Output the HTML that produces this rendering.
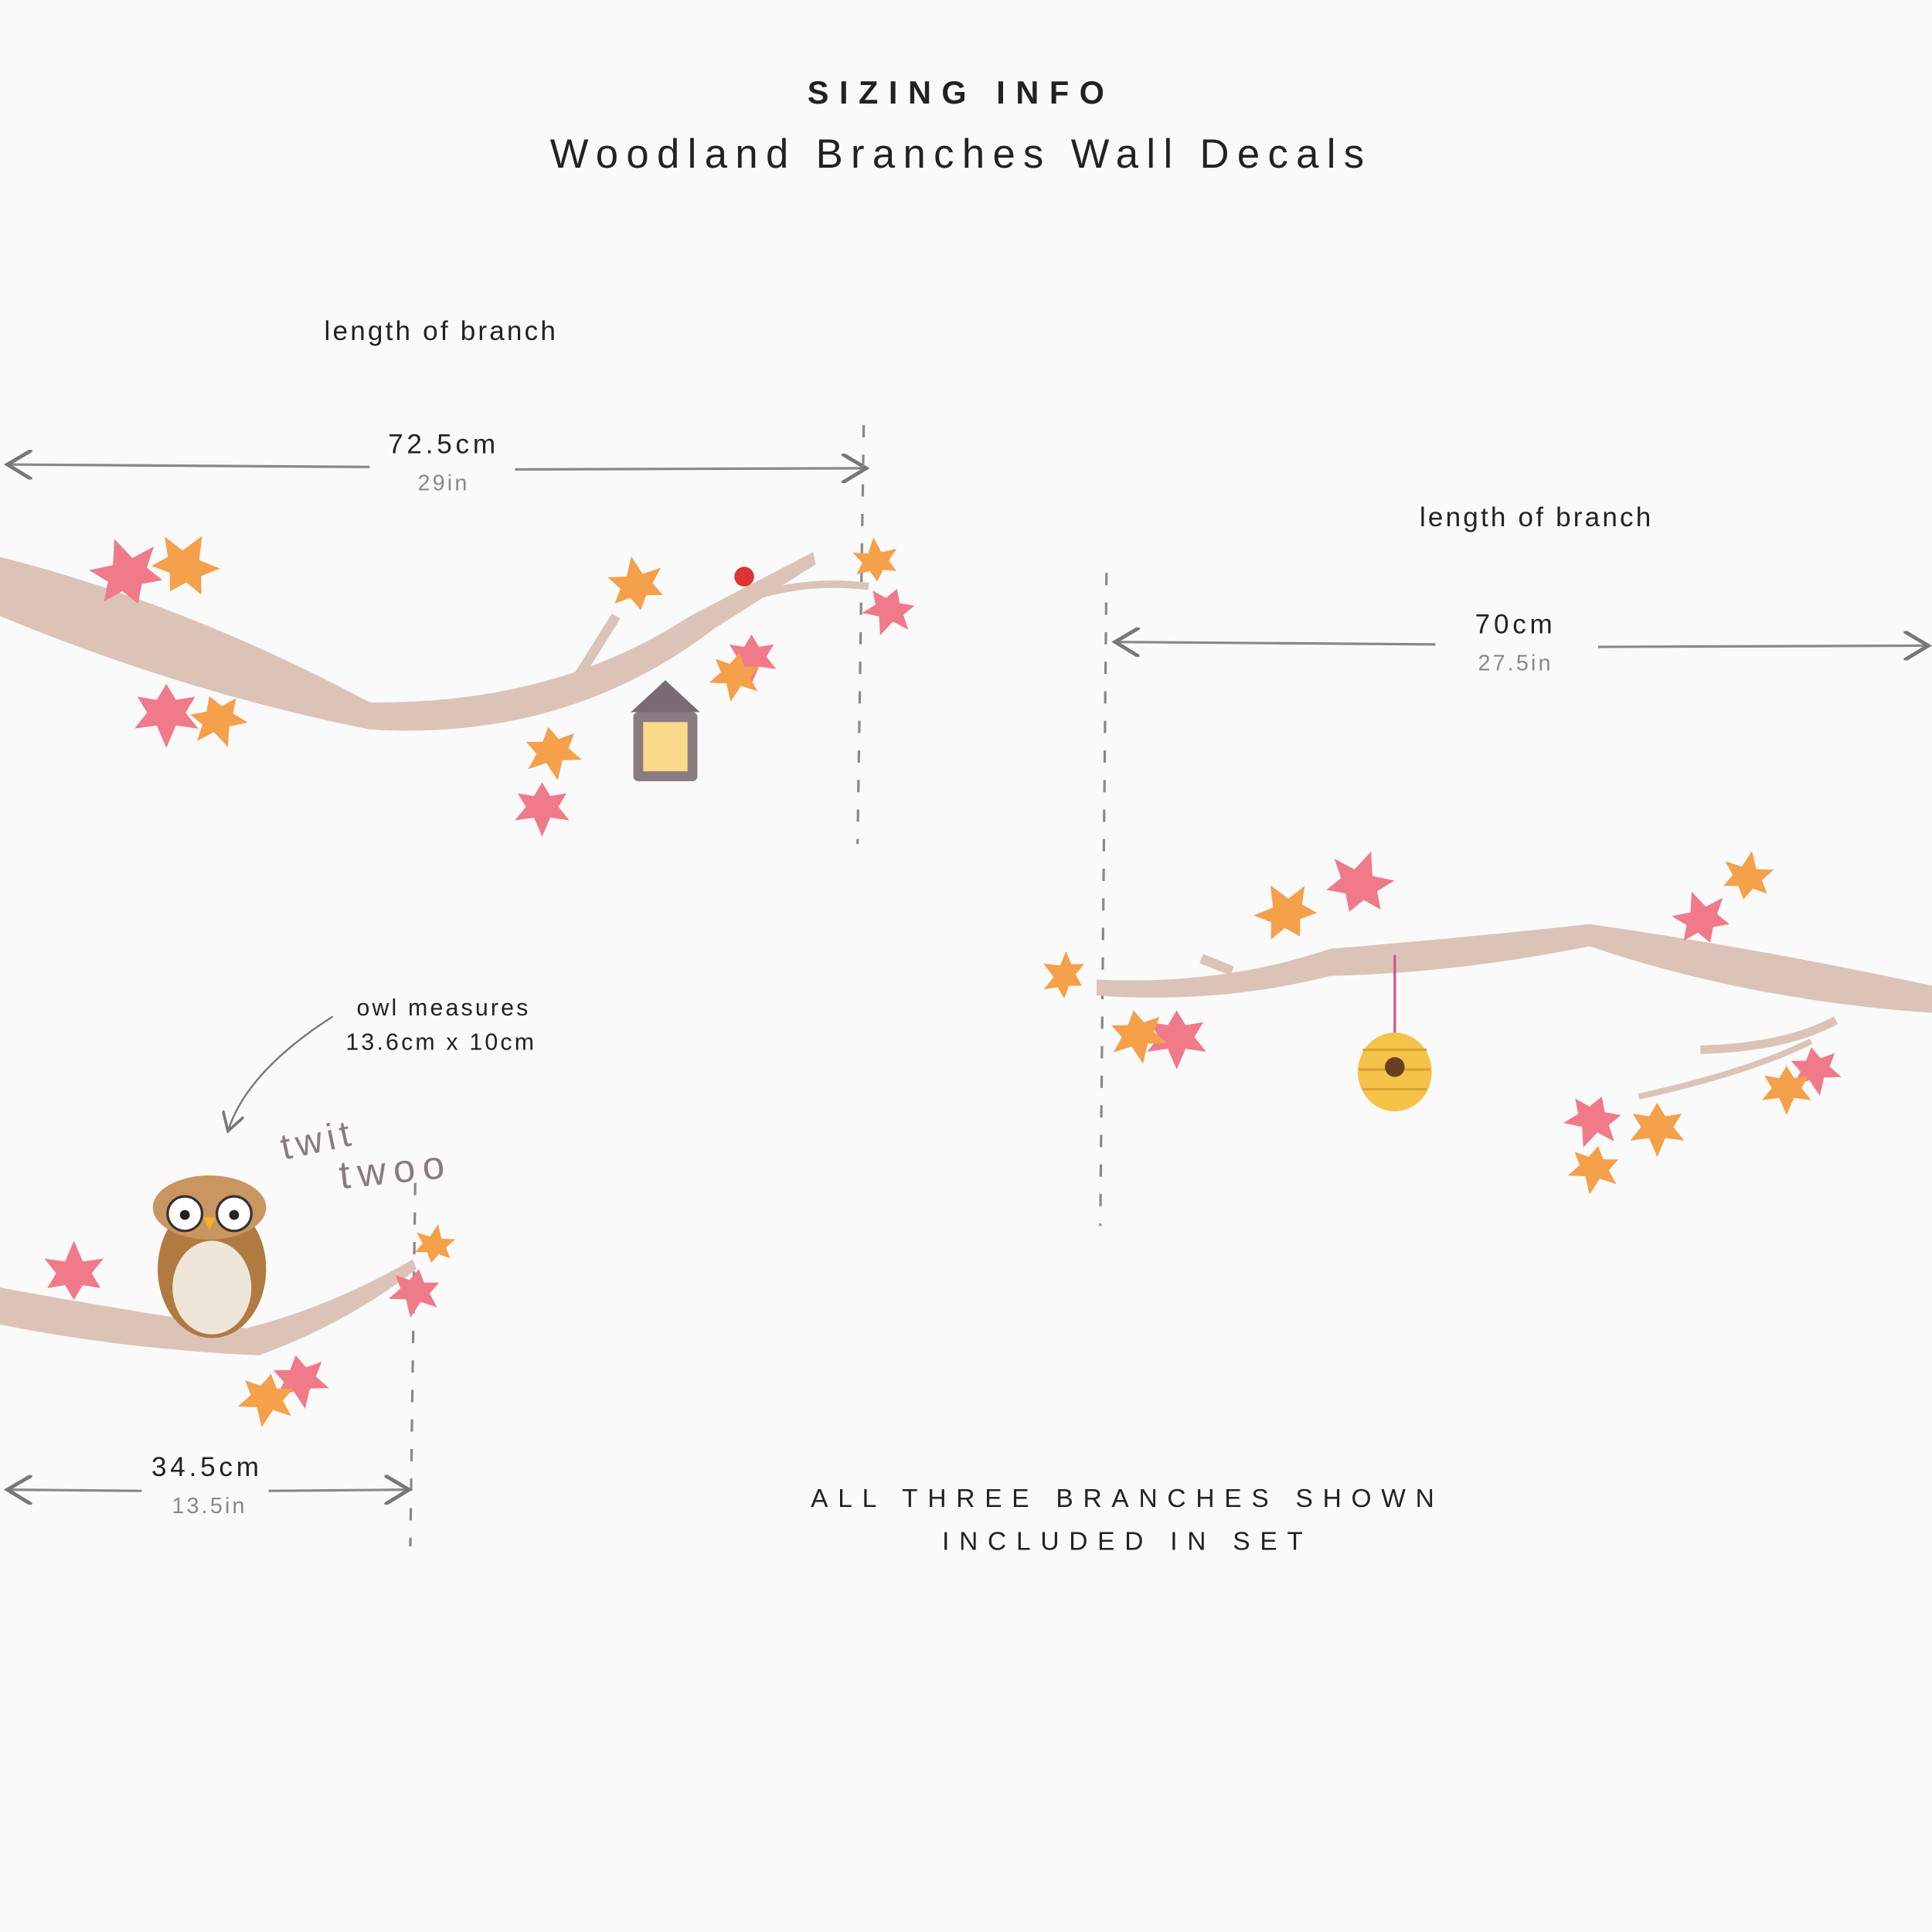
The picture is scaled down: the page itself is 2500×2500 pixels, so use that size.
<!DOCTYPE html>
<html><head><meta charset="utf-8"><style>
html,body{margin:0;padding:0;background:#fafafa;}
svg{display:block;}
text{font-family:"Liberation Sans",sans-serif;}
</style></head><body>
<svg width="2500" height="2500" viewBox="0 0 1568 1568" xmlns="http://www.w3.org/2000/svg">
<rect width="1568" height="1568" fill="#fafafa"/>
<defs>
<g id="leaf"><path d="M0,0 L-6,-10 L-18,-8 L-12,-18 L-20,-28 L-6,-26 L0,-40 L6,-26 L20,-28 L12,-18 L18,-8 L6,-10 Z"/></g>
<marker id="ah" markerWidth="12" markerHeight="12" refX="10" refY="6" orient="auto"><path d="M0,0 L10,6 L0,12" fill="none" stroke="#777" stroke-width="1.5"/></marker>
</defs>
<!-- titles -->
<text x="780" y="84" text-anchor="middle" font-size="26" font-weight="bold" letter-spacing="8.5" fill="#222">SIZING INFO</text>
<text x="780" y="136" text-anchor="middle" font-size="33" letter-spacing="6.5" fill="#222">Woodland Branches Wall Decals</text>

<!-- branch 1 -->
<text x="358" y="276" text-anchor="middle" font-size="22" letter-spacing="2" fill="#222">length of branch</text>
<line x1="300" y1="379" x2="6" y2="377" stroke="#888" stroke-width="2" marker-end="url(#ah)"/>
<line x1="418" y1="381" x2="703" y2="380" stroke="#888" stroke-width="2" marker-end="url(#ah)"/>
<text x="360" y="368" text-anchor="middle" font-size="22" letter-spacing="3" fill="#222">72.5cm</text>
<text x="360" y="398" text-anchor="middle" font-size="18" letter-spacing="2" fill="#888">29in</text>
<line x1="701" y1="345" x2="696" y2="685" stroke="#888" stroke-width="2" stroke-dasharray="10,14"/>
<path d="M0,452 Q150,490 300,570 Q450,572 560,500 L660,448 L662,458 L580,510 Q460,602 300,592 Q150,562 0,500 Z" fill="#dcc3b8"/>
<path d="M615,483 Q660,470 705,476" stroke="#dcc3b8" stroke-width="6" fill="none"/>
<path d="M470,548 L500,500" stroke="#dcc3b8" stroke-width="8"/>
<path d="M95,495 L125,495" stroke="#dcc3b8" stroke-width="10"/>
<g fill="#f07a8a"><use href="#leaf" transform="translate(112,490) rotate(-20) scale(1.4)"/><use href="#leaf" transform="translate(135,555) rotate(180) scale(1.3)"/><use href="#leaf" transform="translate(440,635) rotate(180) scale(1.1)"/><use href="#leaf" transform="translate(728,478) rotate(200) scale(1.0)"/><use href="#leaf" transform="translate(610,515) rotate(180) scale(1.0)"/></g>
<g fill="#f5a04a"><use href="#leaf" transform="translate(138,480) rotate(30) scale(1.3)"/><use href="#leaf" transform="translate(170,565) rotate(160) scale(1.1)"/><use href="#leaf" transform="translate(445,590) rotate(170) scale(1.1)"/><use href="#leaf" transform="translate(520,495) rotate(-10) scale(1.1)"/><use href="#leaf" transform="translate(712,472) rotate(-5) scale(0.9)"/><use href="#leaf" transform="translate(600,530) rotate(190) scale(1.0)"/></g>
<circle cx="604" cy="468" r="8" fill="#d33"/>
<rect x="514" y="578" width="52" height="56" rx="4" fill="#8a7a82"/><rect x="522" y="586" width="36" height="40" fill="#fbd98a"/><path d="M512,578 L540,552 L568,578 Z" fill="#7a6a72"/>

<!-- branch 2 -->
<text x="1247" y="427" text-anchor="middle" font-size="22" letter-spacing="2" fill="#222">length of branch</text>
<line x1="1165" y1="523" x2="905" y2="521" stroke="#888" stroke-width="2" marker-end="url(#ah)"/>
<line x1="1297" y1="525" x2="1565" y2="524" stroke="#888" stroke-width="2" marker-end="url(#ah)"/>
<text x="1230" y="514" text-anchor="middle" font-size="22" letter-spacing="3" fill="#222">70cm</text>
<text x="1230" y="544" text-anchor="middle" font-size="18" letter-spacing="2" fill="#888">27.5in</text>
<line x1="898" y1="465" x2="893" y2="995" stroke="#888" stroke-width="2" stroke-dasharray="10,14"/>
<path d="M890,795 Q990,800 1080,770 Q1200,760 1290,750 Q1430,770 1568,800 L1568,822 Q1420,812 1290,768 Q1180,790 1080,792 Q990,815 890,808 Z" fill="#dcc3b8"/>
<path d="M1380,852 Q1450,850 1490,828" stroke="#dcc3b8" stroke-width="7" fill="none"/>
<path d="M1330,890 Q1420,870 1470,845" stroke="#dcc3b8" stroke-width="5" fill="none"/>
<path d="M975,778 L1000,788" stroke="#dcc3b8" stroke-width="8"/>
<g fill="#f07a8a"><use href="#leaf" transform="translate(1095,740) rotate(20) scale(1.3)"/><use href="#leaf" transform="translate(955,820) rotate(180) scale(1.2)"/><use href="#leaf" transform="translate(1388,765) rotate(-20) scale(1.1)"/><use href="#leaf" transform="translate(1300,890) rotate(200) scale(1.1)"/><use href="#leaf" transform="translate(1470,850) rotate(170) scale(1.0)"/></g>
<g fill="#f5a04a"><use href="#leaf" transform="translate(1055,760) rotate(-30) scale(1.2)"/><use href="#leaf" transform="translate(920,820) rotate(170) scale(1.1)"/><use href="#leaf" transform="translate(1415,730) rotate(10) scale(1.0)"/><use href="#leaf" transform="translate(1345,895) rotate(180) scale(1.1)"/><use href="#leaf" transform="translate(878,800) rotate(-60) scale(0.9)"/><use href="#leaf" transform="translate(1297,930) rotate(190) scale(1.0)"/><use href="#leaf" transform="translate(1450,865) rotate(180) scale(1.0)"/></g>
<line x1="1132" y1="775" x2="1132" y2="840" stroke="#c58" stroke-width="2"/>
<ellipse cx="1132" cy="870" rx="30" ry="32" fill="#f5c24a"/><path d="M1106,852 H1158 M1103,868 H1161 M1106,884 H1158" stroke="#d9a030" stroke-width="2"/><circle cx="1132" cy="866" r="8" fill="#6a3e1e"/>

<!-- owl branch -->
<text x="360" y="824" text-anchor="middle" font-size="19" letter-spacing="2" fill="#222">owl measures</text>
<text x="358" y="852" text-anchor="middle" font-size="19" letter-spacing="2" fill="#222">13.6cm x 10cm</text>
<path d="M270,825 Q200,870 185,918" fill="none" stroke="#777" stroke-width="1.5" marker-end="url(#ah)"/>
<text x="260" y="935" text-anchor="middle" font-size="30" letter-spacing="4" fill="#8a7a82" transform="rotate(-12 260 935)">twit</text>
<text x="322" y="960" text-anchor="middle" font-size="32" letter-spacing="6" fill="#8a7a82" transform="rotate(-6 322 960)">twoo</text>
<line x1="337" y1="960" x2="333" y2="1255" stroke="#888" stroke-width="2" stroke-dasharray="10,14"/>
<path d="M0,1045 Q110,1065 200,1078 Q270,1060 335,1022 L338,1030 Q280,1075 210,1100 Q100,1095 0,1075 Z" fill="#dcc3b8"/>
<g fill="#f07a8a"><use href="#leaf" transform="translate(60,1055) rotate(0) scale(1.2)"/><use href="#leaf" transform="translate(340,1030) rotate(190) scale(1.0)"/><use href="#leaf" transform="translate(240,1100) rotate(170) scale(1.1)"/></g>
<g fill="#f5a04a"><use href="#leaf" transform="translate(350,1025) rotate(10) scale(0.8)"/><use href="#leaf" transform="translate(220,1115) rotate(190) scale(1.1)"/></g>
<ellipse cx="172" cy="1030" rx="44" ry="56" fill="#b07a40"/>
<ellipse cx="172" cy="1045" rx="32" ry="38" fill="#efe6da"/>
<ellipse cx="170" cy="980" rx="46" ry="26" fill="#c99560"/>
<circle cx="150" cy="985" r="14" fill="#fff" stroke="#333" stroke-width="2"/><circle cx="190" cy="985" r="14" fill="#fff" stroke="#333" stroke-width="2"/>
<circle cx="150" cy="986" r="4" fill="#222"/><circle cx="190" cy="986" r="4" fill="#222"/>
<path d="M165,988 L175,988 L170,998 Z" fill="#f5b020"/>
<text x="168" y="1198" text-anchor="middle" font-size="22" letter-spacing="3" fill="#222">34.5cm</text>
<text x="170" y="1228" text-anchor="middle" font-size="18" letter-spacing="2" fill="#888">13.5in</text>
<line x1="115" y1="1210" x2="6" y2="1209" stroke="#888" stroke-width="2" marker-end="url(#ah)"/>
<line x1="218" y1="1210" x2="332" y2="1209" stroke="#888" stroke-width="2" marker-end="url(#ah)"/>

<text x="915" y="1223" text-anchor="middle" font-size="21" letter-spacing="8" fill="#222">ALL THREE BRANCHES SHOWN</text>
<text x="915" y="1258" text-anchor="middle" font-size="21" letter-spacing="8" fill="#222">INCLUDED IN SET</text>
</svg>
</body></html>
